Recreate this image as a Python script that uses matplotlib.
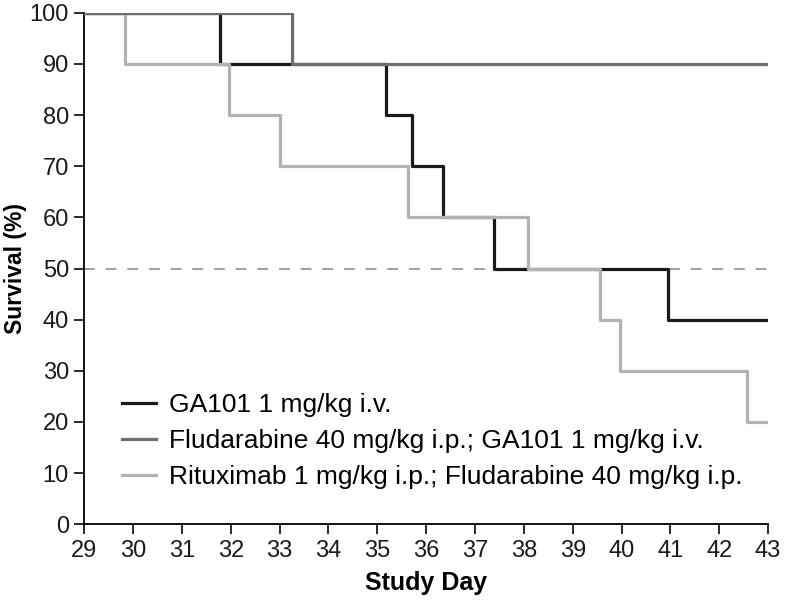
import matplotlib.pyplot as plt

# step data: day at which survival changes, survival after change
ga101_days = [29, 31.78, 35.18, 35.71, 36.35, 37.38, 40.95, 43]
ga101_surv = [100, 90, 80, 70, 60, 50, 40, 40]

flu_ga_days = [29, 33.25, 43]
flu_ga_surv = [100, 90, 90]

rit_flu_days = [29, 29.84, 31.97, 33.0, 35.63, 38.08, 39.55, 39.97, 42.56, 43]
rit_flu_surv = [100, 90, 80, 70, 60, 50, 40, 30, 20, 20]

labels = ['GA101 1 mg/kg i.v.',
          'Fludarabine 40 mg/kg i.p.; GA101 1 mg/kg i.v.',
          'Rituximab 1 mg/kg i.p.; Fludarabine 40 mg/kg i.p.']
colors = ['#1a1a1a', '#6e6e6e', '#b2b2b2']

plt.rcParams['font.family'] = ['Liberation Sans', 'DejaVu Sans']

fig = plt.figure(figsize=(7.87, 6.11), dpi=100)
ax = fig.add_axes([0.107, 0.142, 0.869, 0.837])

ax.axhline(50, color='#999999', lw=1.3, ls=(0, (6, 6)), zorder=1)

ax.step(ga101_days, ga101_surv, where='post', color=colors[0], lw=2.3, label=labels[0], zorder=2)
ax.step(flu_ga_days, flu_ga_surv, where='post', color=colors[1], lw=2.3, label=labels[1], zorder=4)
ax.step(rit_flu_days, rit_flu_surv, where='post', color=colors[2], lw=2.3, label=labels[2], zorder=3)

ax.set_xlim(29, 43)
ax.set_ylim(0, 100)
ax.set_xticks(range(29, 44))
ax.set_yticks(range(0, 101, 10))
ax.spines['top'].set_visible(False)
ax.spines['right'].set_visible(False)
ax.spines['left'].set_linewidth(1.3)
ax.spines['bottom'].set_linewidth(1.3)
ax.tick_params(direction='out', length=7, width=1.3, labelsize=17, colors='#1a1a1a')
ax.tick_params(axis='x', pad=4)
ax.tick_params(axis='y', pad=4)

ax.set_xlabel('Study Day', fontsize=18, fontweight='bold', labelpad=7)
ax.set_ylabel('Survival (%)', fontsize=16.5, fontweight='bold', labelpad=2)

ax.legend(loc='lower left', bbox_to_anchor=(0.02, 0.022), frameon=False,
          fontsize=19, handlelength=1.3, handletextpad=0.5, labelspacing=0.45)

fig.savefig('out.png', dpi=100)
